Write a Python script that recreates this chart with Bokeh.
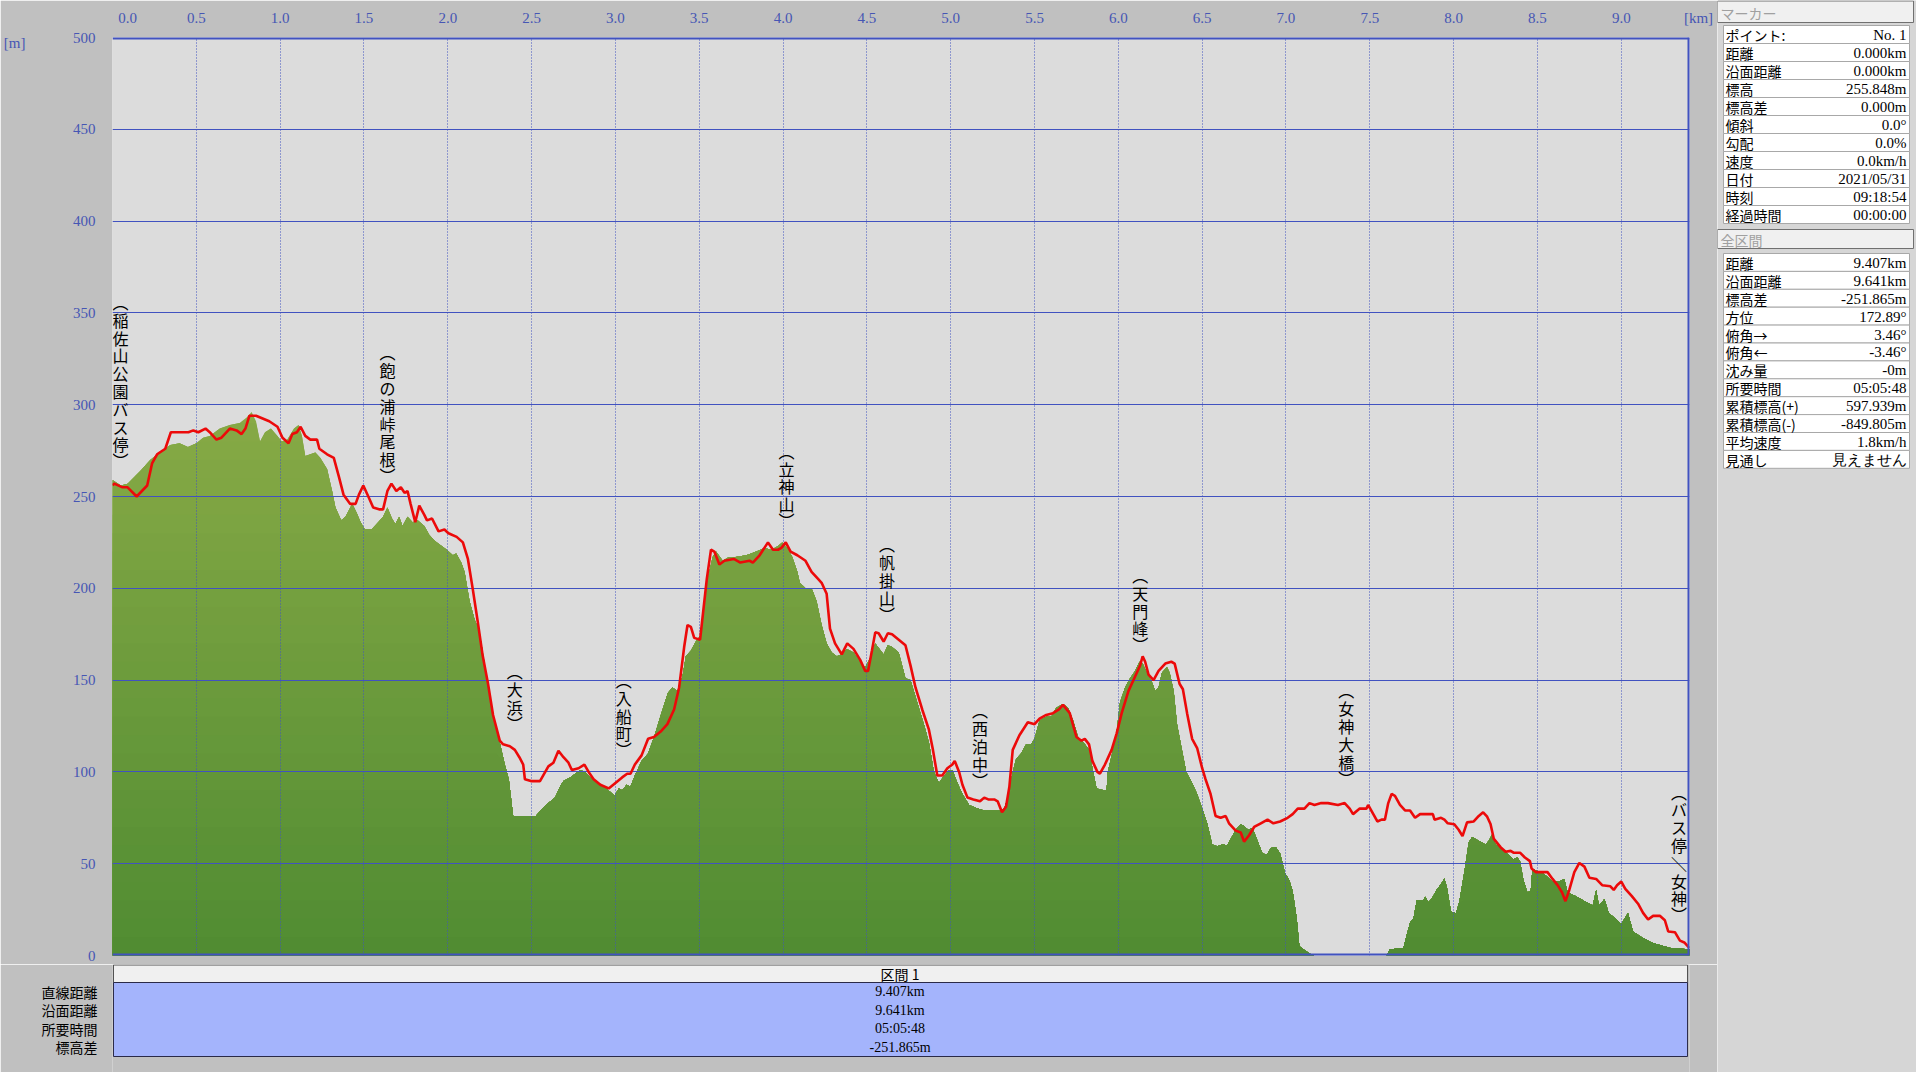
import numpy as np
from bokeh.plotting import figure
from bokeh.layouts import row, column
from bokeh.models import Range1d, FixedTicker, PrintfTickFormatter, LinearAxis, ColumnDataSource, Span
from bokeh.core.properties import value
from bokeh.embed import file_html
from bokeh.resources import INLINE

# ---------------- data ----------------
track_km = [0.00, 0.01, 0.06, 0.09, 0.144, 0.207, 0.236, 0.266, 0.315, 0.348, 0.394, 0.453, 0.482, 0.512,
            0.555, 0.58, 0.62, 0.65, 0.70, 0.74, 0.77, 0.793, 0.817, 0.856, 0.935, 0.984, 1.014, 1.05,
            1.073, 1.10, 1.122, 1.15, 1.18, 1.22, 1.234, 1.28, 1.32, 1.35, 1.378, 1.417, 1.45, 1.47,
            1.496, 1.526, 1.555, 1.59, 1.614, 1.64, 1.664, 1.693, 1.72, 1.742, 1.76, 1.778, 1.806, 1.83,
            1.86, 1.876, 1.906, 1.945, 1.98, 2.004, 2.053, 2.09, 2.12, 2.15, 2.18, 2.207, 2.24, 2.27,
            2.31, 2.33, 2.37, 2.40, 2.427, 2.45, 2.46, 2.496, 2.55, 2.60, 2.63, 2.66, 2.69, 2.72, 2.74,
            2.78, 2.815, 2.84, 2.87, 2.91, 2.96, 3.0, 3.04, 3.07, 3.09, 3.116, 3.156, 3.195, 3.23, 3.27,
            3.31, 3.35, 3.38, 3.41, 3.43, 3.45, 3.47, 3.505, 3.525, 3.545, 3.57, 3.59, 3.62, 3.65, 3.706,
            3.745, 3.80, 3.82, 3.86, 3.91, 3.94, 3.97, 3.99, 4.016, 4.045, 4.085, 4.134, 4.17, 4.21, 4.23,
            4.26, 4.28, 4.31, 4.35, 4.383, 4.42, 4.46, 4.49, 4.507, 4.53, 4.55, 4.57, 4.60, 4.625, 4.65,
            4.69, 4.73, 4.76, 4.79, 4.83, 4.87, 4.894, 4.92, 4.95, 4.98, 5.01, 5.024, 5.05, 5.07, 5.10,
            5.135, 5.175, 5.20, 5.224, 5.26, 5.28, 5.306, 5.33, 5.35, 5.37, 5.41, 5.46, 5.50, 5.53, 5.57,
            5.61, 5.646, 5.67, 5.71, 5.75, 5.78, 5.80, 5.825, 5.845, 5.875, 5.89, 5.92, 5.96, 5.99, 6.02,
            6.06, 6.10, 6.13, 6.145, 6.16, 6.18, 6.21, 6.24, 6.28, 6.316, 6.336, 6.365, 6.385, 6.41, 6.44,
            6.47, 6.50, 6.52, 6.55, 6.58, 6.61, 6.64, 6.66, 6.70, 6.73, 6.75, 6.78, 6.81, 6.85, 6.89,
            6.925, 6.965, 7.01, 7.04, 7.07, 7.11, 7.14, 7.17, 7.21, 7.25, 7.31, 7.35, 7.38, 7.40, 7.44,
            7.48, 7.49, 7.515, 7.545, 7.57, 7.59, 7.61, 7.63, 7.65, 7.68, 7.71, 7.74, 7.77, 7.80, 7.876,
            7.886, 7.925, 7.945, 7.965, 8.004, 8.03, 8.053, 8.08, 8.12, 8.15, 8.176, 8.20, 8.22, 8.24,
            8.28, 8.31, 8.34, 8.357, 8.396, 8.425, 8.455, 8.465, 8.49, 8.56, 8.59, 8.62, 8.647, 8.667,
            8.69, 8.72, 8.75, 8.78, 8.81, 8.85, 8.886, 8.935, 8.955, 8.975, 9.0, 9.024, 9.063, 9.10,
            9.13, 9.16, 9.19, 9.23, 9.26, 9.28, 9.32, 9.35, 9.376, 9.407]
track_m = [256, 257, 255, 255, 250, 256, 268, 273, 276, 285, 285, 285, 286, 285,
           287, 285, 281, 282, 287, 286, 284, 287, 294, 294, 291, 288, 282, 279,
           284, 285, 288, 283, 281, 281, 276, 273, 271, 261, 251, 246, 246, 251,
           256, 250, 244, 243, 243, 253, 257, 253, 255, 252, 253, 246, 236, 245,
           240, 237, 238, 231, 232, 230, 228, 225, 216, 199, 181, 164, 148, 131,
           117, 115, 114, 112, 108, 104, 96, 95, 95, 103, 105, 111.5, 108, 105, 101,
           102, 104, 100, 96, 93, 91, 94, 97, 99, 99, 104, 109, 118, 119, 122,
           126, 134, 146, 168, 180, 179, 173, 172, 188.5, 205, 221, 220, 213, 215, 216,
           214, 215, 214, 218, 225, 221, 221, 222, 225, 220, 218, 215, 209, 205, 203,
           197, 178, 170, 164, 170, 167, 161, 155, 155, 166, 176, 175.5, 171, 175.5, 175,
           172, 169, 158, 146, 134, 123, 112, 98, 98, 102, 104, 106, 100, 93, 86,
           85, 84, 86, 85, 85, 84, 78, 81, 92, 112, 120, 127, 126, 129, 131,
           132, 134, 136.5, 132, 119, 117, 118, 115, 106, 100, 99, 104, 112, 121, 132,
           144, 152, 158, 163, 160, 153, 150, 155, 159, 160, 159, 148, 145, 132, 118,
           113, 102, 96, 88, 76, 75, 76, 72, 68, 67, 62, 65.5, 70, 72, 74,
           72, 73, 75, 77, 80, 80, 83, 82, 83, 83, 82, 83, 80, 77, 80,
           80, 82, 78, 73, 74, 74, 83, 88, 87, 82, 79, 79, 75, 77, 77,
           74, 75, 74, 72, 71.5, 68.5, 65, 72.5, 73, 76, 78, 75.6, 71.6, 63.5,
           59, 56.5, 57, 56, 56, 53.4, 51.4, 47.4, 45.4, 45.4, 41.7, 38.3, 34.3, 29.6,
           35.7, 45.4, 50.4, 48.4, 42.3, 41.7, 38.3, 37.7, 35.7, 38.3, 40.3, 36.3, 32.3, 28.2,
           23.2, 19.6, 21.6, 21.6, 19.2, 13.1, 12.7, 8.1, 7.1, 4.0]

terrain_km = [0.0, 0.05, 0.09, 0.167, 0.226, 0.295, 0.345, 0.40, 0.45, 0.50, 0.54, 0.58, 0.64, 0.70,
              0.758, 0.80, 0.83, 0.856, 0.88, 0.91, 0.945, 0.984, 1.01, 1.043, 1.083, 1.11, 1.13, 1.15,
              1.18, 1.21, 1.24, 1.28, 1.31, 1.33, 1.364, 1.39, 1.43, 1.457, 1.48, 1.506, 1.545, 1.585,
              1.614, 1.64, 1.667, 1.687, 1.71, 1.73, 1.76, 1.79, 1.82, 1.86, 1.89, 1.92, 1.935, 1.994,
              2.03, 2.05, 2.08, 2.10, 2.13, 2.16, 2.19, 2.22, 2.25, 2.29, 2.34, 2.364, 2.39, 2.447,
              2.525, 2.565, 2.60, 2.64, 2.67, 2.69, 2.73, 2.76, 2.79, 2.82, 2.85, 2.89, 2.93, 2.97,
              2.994, 3.02, 3.04, 3.067, 3.09, 3.116, 3.156, 3.195, 3.234, 3.274, 3.313, 3.34, 3.37, 3.40,
              3.42, 3.45, 3.48, 3.505, 3.53, 3.55, 3.58, 3.60, 3.64, 3.677, 3.716, 3.78, 3.81, 3.84,
              3.89, 3.93, 3.97, 3.995, 4.025, 4.055, 4.085, 4.10, 4.134, 4.17, 4.20, 4.23, 4.26, 4.29,
              4.32, 4.35, 4.38, 4.42, 4.46, 4.49, 4.52, 4.55, 4.575, 4.60, 4.625, 4.65, 4.69, 4.73,
              4.76, 4.80, 4.84, 4.87, 4.90, 4.93, 4.953, 4.99, 5.01, 5.04, 5.07, 5.11, 5.16, 5.20,
              5.30, 5.32, 5.345, 5.37, 5.39, 5.42, 5.45, 5.48, 5.50, 5.53, 5.57, 5.60, 5.63, 5.67,
              5.70, 5.73, 5.76, 5.80, 5.825, 5.85, 5.87, 5.914, 5.93, 5.937, 5.963, 5.99, 6.01, 6.04,
              6.07, 6.10, 6.126, 6.145, 6.17, 6.20, 6.22, 6.24, 6.26, 6.29, 6.306, 6.33, 6.35, 6.375,
              6.405, 6.44, 6.47, 6.50, 6.53, 6.56, 6.59, 6.62, 6.65, 6.67, 6.70, 6.73, 6.75, 6.774,
              6.80, 6.83, 6.86, 6.886, 6.91, 6.94, 6.965, 6.994, 7.02, 7.04, 7.063, 7.08, 7.11, 7.15,
              7.17, 7.60, 7.62, 7.70, 7.72, 7.74, 7.76, 7.78, 7.82, 7.83, 7.85, 7.87, 7.90, 7.925,
              7.945, 7.96, 7.984, 8.014, 8.033, 8.063, 8.09, 8.11, 8.15, 8.19, 8.21, 8.23, 8.25, 8.28,
              8.32, 8.357, 8.38, 8.396, 8.416, 8.44, 8.46, 8.47, 8.49, 8.54, 8.59, 8.63, 8.66, 8.68,
              8.73, 8.79, 8.83, 8.85, 8.867, 8.90, 8.925, 8.965, 9.0, 9.04, 9.07, 9.12, 9.18, 9.24,
              9.30, 9.407]
terrain_m = [259, 256, 257, 264, 270, 275, 278, 279, 277, 279, 282, 283, 287, 289,
             290, 293, 296, 291, 280, 285, 287, 283, 280, 281, 287, 289, 283, 272,
             273, 274, 271, 265, 253, 244, 237, 239, 246, 241, 236, 232, 232, 236,
             239, 244, 238, 235, 239, 234, 239, 236, 237, 234, 229, 226, 225, 221,
             218, 219, 214, 209, 193, 183, 176, 159, 140, 124, 104, 96, 76, 76,
             76, 80, 83, 86, 92, 95, 97, 99, 101, 100, 97, 94, 92, 89,
             87, 91, 90, 93, 92, 98, 106, 110, 120, 132, 143, 146, 144, 152,
             163, 166, 171, 174, 190.5, 205, 217, 220, 215, 217, 217, 218, 219, 220,
             222, 221, 223, 225, 222, 217, 209, 203, 200, 200, 193, 180, 170, 165,
             163, 164, 167, 165, 160, 157, 162, 170, 167, 164, 169, 168, 165, 151,
             150, 138, 126, 116, 100, 94, 97, 101, 101, 94, 88, 82, 80, 79,
             79, 80, 88, 100, 107, 110, 115, 115, 118, 128, 130, 130, 135, 137,
             135, 128, 119, 115, 112, 100, 91, 90, 90, 100, 110, 122, 138, 146,
             151, 155, 160, 159, 154, 149, 144, 146, 154, 157, 154, 144, 126, 114,
             100, 94, 88, 80, 72, 60.5, 59.5, 60.5, 60, 63.5, 68.5, 71.5, 70.5, 68.5,
             69.5, 62.5, 55.5, 55, 58.5, 59, 55.5, 45, 41, 35, 21, 5, 3, 0.6,
             0, 0, 3.4, 4, 11, 18, 20, 30, 30, 32, 29, 31, 36, 39,
             42, 37, 24, 23, 29, 45, 61.5, 64.5, 62.5, 60.5, 62.5, 66, 60.5, 59,
             55.4, 52.4, 53.4, 51.4, 41.3, 34.3, 35.3, 47.4, 46.4, 44.4, 40.3, 40.3, 41.7, 34.3,
             32.3, 29.2, 27.2, 35.7, 27.2, 30.8, 23.2, 20.2, 17.1, 23.2, 13.1, 10.1, 7.1, 5.4,
             4, 3.4]

wp_names = ["稲佐山公園バス停", "飽の浦峠尾根", "大浜", "入船町", "立神山", "帆掛山",
            "西泊中", "天門峰", "女神大橋", "バス停＼女神"]
wp_km = [0.0, 1.64, 2.40, 3.05, 4.02, 4.62, 5.175, 6.13, 7.36, 9.345]
wp_label_alt = [268, 260, 125, 110.6, 235.5, 184.6, 94.2, 167.8, 95.3, 20.7]

x_ticks = [0.0, 0.5, 1.0, 1.5, 2.0, 2.5, 3.0, 3.5, 4.0, 4.5, 5.0, 5.5, 6.0, 6.5, 7.0, 7.5, 8.0, 8.5, 9.0]
y_ticks = [0, 50, 100, 150, 200, 250, 300, 350, 400, 450, 500]
total_km = 9.407

marker_labels = ["ポイント:", "距離", "沿面距離", "標高", "標高差", "傾斜", "勾配", "速度", "日付", "時刻", "経過時間"]
marker_values = ["No. 1", "0.000km", "0.000km", "255.848m", "0.000m", "0.0°", "0.0%", "0.0km/h",
                 "2021/05/31", "09:18:54", "00:00:00"]
total_labels = ["距離", "沿面距離", "標高差", "方位", "俯角→", "俯角←", "沈み量", "所要時間",
                "累積標高(+)", "累積標高(-)", "平均速度", "見通し"]
total_values = ["9.407km", "9.641km", "-251.865m", "172.89°", "3.46°", "-3.46°", "-0m", "05:05:48",
                "597.939m", "-849.805m", "1.8km/h", "見えません"]
section_title = "区間 1"
section_labels = ["直線距離", "沿面距離", "所要時間", "標高差"]
section_values = ["9.407km", "9.641km", "05:05:48", "-251.865m"]

# ---------------- styles ----------------
BG = "#c0c0c0"
PLOT_BG = "#dcdcdc"
BLUE = "#4152c0"
TICK_BLUE = "#4656b4"
JP = "Noto Sans CJK JP"
NUM = "Liberation Serif"

# ---------------- main chart (page px: frame 95..1689 x 37..955) ----------------
p = figure(width=1717, height=964, x_range=Range1d(0, total_km), y_range=Range1d(0, 500),
           x_axis_location="above", output_backend="svg", toolbar_location=None,
           min_border_left=95, min_border_right=28, min_border_top=37, min_border_bottom=9,
           background_fill_color=PLOT_BG, border_fill_color=BG)
p.outline_line_color = None


def style_axis(ax, color=TICK_BLUE, font=NUM, size="15px"):
    ax.axis_line_color = None
    ax.major_tick_line_color = None
    ax.minor_tick_line_color = None
    ax.major_label_text_color = color
    ax.major_label_text_font = font
    ax.major_label_text_font_size = size


style_axis(p.xaxis[0])
style_axis(p.yaxis[0])
p.xaxis.ticker = FixedTicker(ticks=x_ticks + [total_km])
p.xaxis.formatter = PrintfTickFormatter(format="%.1f")
p.xaxis.major_label_overrides = {0: "\u2002\u2002\u2002\u20020.0", total_km: "\u2002\u2002\u2009[km]"}
p.xaxis.major_label_standoff = 6
p.yaxis.ticker = FixedTicker(ticks=y_ticks)
p.yaxis.major_label_standoff = 11

unit_axis = LinearAxis(ticker=FixedTicker(ticks=[497]), major_label_overrides={497: "[m]"},
                       major_label_standoff=38)
style_axis(unit_axis)
p.add_layout(unit_axis, "left")

p.xgrid.ticker = FixedTicker(ticks=x_ticks)
p.xgrid.grid_line_color = BLUE
p.xgrid.grid_line_dash = "1 2"
p.xgrid.grid_line_width = 1
p.ygrid.grid_line_color = BLUE
p.ygrid.grid_line_width = 1

# frame edges: thick on top, right and bottom (left edge only dotted grid)
for loc, dim in ((500, "width"), (0, "width"), (total_km, "height")):
    p.add_layout(Span(location=loc, dimension=dim, line_color=BLUE, line_width=4))

# terrain area with vertical colour gradient (layered bands)
tk = np.array(terrain_km)
tm = np.array(terrain_m)
c_top = np.array([136, 170, 70])
c_bot = np.array([80, 140, 50])


def shade(m):
    t = min(max(m / 300.0, 0.0), 1.0)
    c = c_bot + (c_top - c_bot) * t
    return "#%02x%02x%02x" % tuple(int(round(v)) for v in c)


p.varea(x=tk, y1=0, y2=tm, fill_color=shade(300), level="image")
for b in range(290, 0, -10):
    p.varea(x=tk, y1=0, y2=np.minimum(tm, b), fill_color=shade(b - 5), level="image")

# GPS track
p.line(track_km, track_m, line_color="#ec0a0a", line_width=2.6)

# waypoint labels: vertical text, one character per row
PITCH = 17.8
BR = 7
lx, ly, lt, lxo, lyo = [], [], [], [], []
for name, km, alt in zip(wp_names, wp_km, wp_label_alt):
    xo = 8 if km == 0 else 0
    seq = ["︵"] + list(name) + ["︶"]
    n = len(name)
    offs = [-(BR + n * PITCH)] + [-(BR + (n - 1 - i) * PITCH) for i in range(n)] + [9]
    for ch, yo in zip(seq, offs):
        lx.append(km); ly.append(alt); lt.append(ch); lxo.append(xo); lyo.append(yo)
lsrc = ColumnDataSource(dict(x=lx, y=ly, t=lt, xo=lxo, yo=lyo))
p.text(x="x", y="y", text="t", source=lsrc, x_offset="xo", y_offset="yo",
       text_font=value(JP), text_font_size="16px", text_color="#000000",
       text_align="center", text_baseline="bottom")

# ---------------- bottom section table (page px) ----------------
row_y = [991, 1009.5, 1028, 1046.5]
pb = figure(width=1717, height=108, x_range=Range1d(95, 1689), y_range=Range1d(1072, 964),
            output_backend="svg", toolbar_location=None, x_axis_location=None,
            min_border_left=95, min_border_right=28, min_border_top=0, min_border_bottom=0,
            background_fill_color=BG, border_fill_color=BG)
pb.grid.visible = False
pb.outline_line_color = None
style_axis(pb.yaxis[0], color="#000000", font=JP, size="14px")
pb.yaxis.ticker = FixedTicker(ticks=row_y)
pb.yaxis.major_label_overrides = {y: t for y, t in zip(row_y, section_labels)}
pb.yaxis.major_label_standoff = 9
pb.quad(left=96, right=1687, top=964.5, bottom=982, fill_color="#f0f0f0", line_color="#505050")
pb.quad(left=96, right=1687, top=982, bottom=1056, fill_color="#a4b4fc", line_color="#2a2a48")
pb.text(x=[891], y=[973], text=[section_title], text_font=value(JP), text_font_size="14px",
        text_align="center", text_baseline="middle", text_color="#000000")
pb.text(x=[891] * 4, y=row_y, text=section_values, text_font=value(NUM), text_font_size="14px",
        text_align="center", text_baseline="middle", text_color="#000000")

# ---------------- right information panel (page px) ----------------
pr = figure(width=199, height=1072, x_range=Range1d(1717, 1916), y_range=Range1d(1072, 0),
            output_backend="svg", toolbar_location=None, x_axis_location=None, y_axis_location=None,
            min_border=0, background_fill_color="#d6d6d6", border_fill_color="#d6d6d6")
pr.grid.visible = False
pr.outline_line_color = None


def panel_table(top, rh, labels, values, head_top, head_bottom, head_text):
    pr.quad(left=1717, right=1913, top=head_top, bottom=head_bottom, fill_color="#f0f0f0",
            line_color="#707070")
    pr.text(x=[1720], y=[(head_top + head_bottom) / 2 + 1], text=[head_text], text_font=value(JP),
            text_font_size="14px", text_baseline="middle", text_color="#a0a0a0")
    n = len(labels)
    tops = [top + i * rh for i in range(n)]
    bots = [t + rh for t in tops]
    pr.quad(left=1723, right=1909, top=tops, bottom=bots, fill_color="#ffffff", line_color="#a8a8a8")
    mids = [t + rh / 2 + 0.5 for t in tops]
    pr.text(x=[1725] * n, y=mids, text=labels, text_font=value(JP), text_font_size="14px",
            text_baseline="middle", text_color="#000000")
    pr.text(x=[1906] * n, y=mids, text=values, text_font=value(NUM), text_font_size="15px",
            text_align="right", text_baseline="middle", text_color="#000000")


panel_table(25, 18, marker_labels, marker_values, 0.5, 22, "マーカー")
panel_table(253, 17.9, total_labels, total_values, 229, 248, "全区間")

layout = row(column(p, pb), pr)
open("out.html", "w").write(file_html(layout, INLINE, title="profile"))
